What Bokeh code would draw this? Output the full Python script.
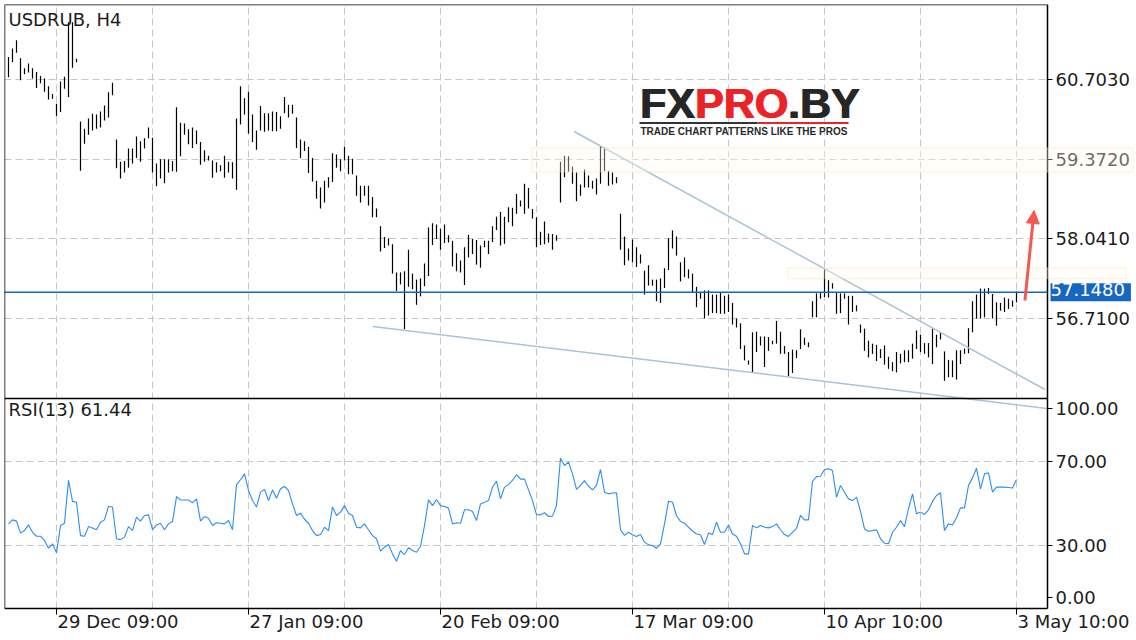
from bokeh.plotting import figure
from bokeh.models import (Range1d, FixedTicker, BoxAnnotation, Label, LinearAxis,
                          Arrow, NormalHead, ColumnDataSource)
from bokeh.embed import file_html
from bokeh.resources import INLINE

# ---------------- data ----------------
symbol_title = "USDRUB, H4"
rsi_title = "RSI(13) 61.44"
price_ticks = [60.7030, 59.3720, 58.0410, 56.7100]
price_tick_labels = ["60.7030", "59.3720", "58.0410", "56.7100"]
last_price = 57.1480
last_price_label = "57.1480"
rsi_ticks = [100, 70, 30, 0]
rsi_tick_labels = ["100.00", "70.00", "30.00", "0.00"]
rsi_grid_levels = [70, 30]
date_labels = ["29 Dec 09:00", "27 Jan 09:00", "20 Feb 09:00",
               "17 Mar 09:00", "10 Apr 10:00", "3 May 10:00"]
date_label_bars = [12, 60, 108, 156, 204, 252]
grid_bars = [12, 36, 60, 84, 108, 132, 156, 180, 204, 228, 252]

high = [61.08, 61.22, 61.36, 61.06, 60.89, 60.97, 60.89, 60.83, 60.76, 60.72,
        60.59, 60.46, 60.30, 60.67, 60.75, 61.66, 61.66, 61.05, 60.00, 59.88,
        60.05, 60.13, 60.12, 60.17, 60.27, 60.49, 60.65, 59.70, 59.33, 59.34,
        59.55, 59.55, 59.75, 59.67, 59.72, 59.90, 59.73, 59.30, 59.37, 59.37,
        59.37, 59.34, 60.24, 59.98, 59.97, 59.87, 59.90, 59.85, 59.66, 59.52,
        59.43, 59.35, 59.32, 59.27, 59.43, 59.33, 59.32, 60.05, 60.59, 60.39,
        60.50, 60.12, 59.85, 60.26, 60.14, 60.14, 60.17, 60.16, 60.09, 60.41,
        60.28, 60.28, 60.07, 59.70, 59.67, 59.58, 59.39, 59.01, 58.90, 59.01,
        59.07, 59.47, 59.45, 59.37, 59.58, 59.43, 59.38, 59.10, 58.93, 58.93,
        58.93, 58.74, 58.55, 58.25, 58.07, 58.05, 57.95, 57.48, 57.48, 57.50,
        57.86, 57.46, 57.36, 57.38, 57.63, 58.23, 58.30, 58.28, 58.21, 58.28,
        58.10, 58.01, 57.80, 57.68, 57.90, 58.11, 58.04, 58.02, 57.93, 58.01,
        58.01, 58.25, 58.41, 58.49, 58.41, 58.57, 58.56, 58.79, 58.68, 58.96,
        58.89, 58.54, 58.40, 58.16, 58.33, 58.13, 58.12, 58.10, 59.33, 59.43,
        59.42, 59.25, 59.15, 58.95, 59.20, 59.10, 59.01, 59.05, 59.58, 59.55,
        59.18, 59.15, 59.07, 58.46, 58.08, 57.88, 58.03, 57.90, 57.78, 57.51,
        57.60, 57.36, 57.36, 57.38, 57.55, 58.05, 58.18, 58.08, 57.65, 57.73,
        57.53, 57.46, 57.24, 57.15, 57.18, 57.18, 57.11, 57.11, 57.14, 57.09,
        57.11, 56.97, 56.71, 56.63, 56.26, 56.01, 56.48, 56.49, 56.41, 56.41,
        56.40, 56.34, 56.67, 56.49, 56.25, 56.15, 56.19, 56.18, 56.53, 56.39,
        56.31, 57.00, 57.13, 57.15, 57.55, 57.35, 57.30, 57.15, 57.13, 57.13,
        57.09, 57.09, 56.93, 56.61, 56.54, 56.34, 56.29, 56.27, 56.20, 56.26,
        56.07, 55.98, 56.15, 56.12, 56.18, 56.18, 56.29, 56.51, 56.44, 56.30,
        56.30, 56.54, 56.44, 56.48, 56.16, 56.02, 56.01, 56.18, 56.18, 56.21,
        56.55, 57.00, 57.11, 57.21, 57.21, 57.22, 57.12, 56.98, 56.97, 57.06,
        57.04, 57.01, 57.16]

low = [60.74, 60.99, 61.15, 60.69, 60.79, 60.82, 60.72, 60.56, 60.64, 60.50,
       60.37, 60.38, 60.09, 60.16, 60.55, 60.41, 60.90, 60.99, 59.18, 59.63,
       59.78, 59.85, 59.88, 59.90, 60.02, 60.07, 60.44, 59.22, 59.05, 59.15,
       59.23, 59.30, 59.39, 59.33, 59.55, 59.72, 59.15, 58.92, 59.05, 58.97,
       59.15, 59.17, 59.16, 59.42, 59.78, 59.62, 59.56, 59.62, 59.28, 59.33,
       59.35, 59.06, 59.15, 59.17, 59.06, 59.15, 59.05, 58.86, 59.95, 60.12,
       59.80, 59.66, 59.53, 59.85, 59.83, 59.85, 59.84, 59.84, 59.88, 60.14,
       60.07, 60.13, 59.56, 59.39, 59.51, 59.14, 59.00, 58.71, 58.55, 58.65,
       58.90, 58.99, 59.23, 59.17, 59.35, 59.12, 59.12, 58.76, 58.65, 58.76,
       58.60, 58.40, 58.40, 57.83, 57.89, 57.93, 57.46, 57.17, 57.28, 56.53,
       57.24, 57.20, 56.94, 57.08, 57.25, 57.42, 57.94, 58.04, 57.86, 57.97,
       57.98, 57.58, 57.50, 57.48, 57.27, 57.73, 57.79, 57.61, 57.56, 57.90,
       57.79, 57.99, 58.19, 57.93, 57.96, 58.32, 58.25, 58.46, 58.58, 58.46,
       58.55, 58.38, 57.90, 57.94, 57.95, 57.98, 57.86, 58.01, 58.65, 59.07,
       59.16, 58.96, 58.67, 58.76, 58.90, 58.90, 58.88, 58.78, 58.96, 59.17,
       58.93, 58.95, 58.97, 57.86, 57.60, 57.68, 57.65, 57.57, 57.63, 57.11,
       57.26, 57.26, 57.00, 56.97, 57.22, 57.52, 57.88, 57.76, 57.33, 57.40,
       57.38, 57.15, 56.90, 57.04, 56.71, 56.76, 56.80, 56.80, 56.79, 56.79,
       56.82, 56.61, 56.56, 56.20, 56.01, 55.94, 55.81, 56.15, 56.26, 55.90,
       56.17, 56.28, 56.29, 56.12, 56.12, 55.75, 55.80, 56.05, 56.20, 56.27,
       56.23, 56.73, 56.73, 57.04, 57.07, 57.06, 57.21, 56.79, 56.80, 57.04,
       56.61, 56.82, 56.83, 56.47, 56.17, 56.06, 56.12, 56.00, 56.05, 55.94,
       55.87, 55.83, 55.81, 55.96, 55.98, 55.98, 56.04, 56.20, 56.15, 56.12,
       56.06, 55.95, 56.23, 56.36, 55.67, 55.73, 55.73, 55.69, 55.95, 56.12,
       56.13, 56.48, 56.71, 56.71, 56.73, 57.12, 56.71, 56.59, 56.84, 56.82,
       56.87, 56.91, 56.98]

rsi = [40.3, 42.2, 41.6, 35.9, 37.1, 39.8, 36.3, 34.4, 34.4, 32.4,
       28.7, 30.8, 26.5, 39.5, 40.6, 61.0, 51.0, 50.6, 34.7, 34.4,
       39.0, 38.3, 37.5, 41.1, 42.2, 48.6, 48.3, 33.2, 32.8, 34.0,
       39.0, 37.1, 43.5, 41.6, 44.3, 44.6, 37.6, 39.8, 40.6, 37.5,
       40.3, 41.4, 53.3, 51.7, 51.7, 51.7, 50.3, 52.2, 41.6, 43.8,
       43.0, 39.5, 40.8, 40.6, 40.3, 41.9, 37.5, 59.0, 61.3, 64.1,
       56.2, 51.4, 48.3, 55.4, 56.7, 51.4, 56.5, 52.5, 57.0, 58.1,
       56.2, 49.8, 44.3, 45.4, 42.5, 40.6, 37.1, 34.7, 35.2, 38.7,
       37.1, 48.3, 44.3, 45.9, 49.0, 45.4, 44.3, 38.7, 38.4, 40.3,
       37.5, 34.7, 33.2, 27.3, 29.2, 30.5, 26.0, 22.5, 27.6, 25.7,
       28.9, 27.6, 26.8, 29.5, 39.5, 51.7, 49.0, 51.9, 49.0, 48.6,
       47.8, 40.3, 40.8, 40.6, 47.0, 47.0, 46.2, 41.9, 49.8, 50.6,
       51.4, 57.8, 60.6, 52.2, 57.8, 59.0, 61.0, 63.7, 61.6, 61.6,
       56.5, 51.4, 44.7, 44.6, 45.6, 43.8, 44.0, 49.0, 71.6, 68.1,
       69.7, 64.1, 56.7, 58.6, 60.9, 58.2, 56.5, 58.6, 66.2, 55.4,
       54.6, 55.0, 55.1, 37.5, 34.8, 36.3, 35.1, 34.3, 35.2, 31.6,
       30.3, 30.0, 28.7, 30.8, 40.3, 51.1, 50.6, 44.3, 41.4, 40.6,
       38.7, 36.9, 35.5, 35.1, 30.5, 35.9, 35.2, 41.1, 36.3, 36.3,
       39.8, 35.5, 34.4, 30.8, 26.0, 26.0, 39.5, 38.4, 39.5, 38.7,
       38.4, 39.0, 40.3, 37.5, 35.2, 34.3, 36.3, 38.2, 44.3, 42.2,
       42.2, 60.6, 62.8, 63.0, 66.2, 66.5, 65.7, 53.0, 58.6, 55.4,
       52.2, 51.4, 53.0, 46.3, 37.9, 36.8, 37.1, 37.5, 33.2, 31.1,
       30.8, 36.3, 38.7, 41.9, 39.0, 47.5, 54.6, 45.1, 45.9, 44.8,
       47.0, 51.0, 53.8, 55.1, 37.1, 40.3, 39.8, 43.2, 47.9, 47.9,
       58.6, 62.2, 66.8, 57.0, 64.1, 64.6, 55.4, 57.8, 57.8, 57.8,
       57.6, 57.4, 61.44]

bars = list(range(len(high)))

# analyst drawings (bar index, price)
upper_trend_x = [141.4, 259.1]
upper_trend_y = [59.834, 55.524]
lower_trend_x = [91.1, 259.6]
lower_trend_y = [56.576, 55.207]
zone_left = [130.9, 194.9]
zone_right = [281.1, 279.4]
zone_top = [59.559, 57.554]
zone_bottom = [59.158, 57.378]
arrow_start = (254.1, 57.011)
arrow_end = (256.4, 58.515)

# ---------------- layout ----------------
FONT = "DejaVu Sans"
TEXT = "#1c1c1c"
W, H = 1136, 640
LEFT, TOP = 4, 4
PANE_W = 1043                 # width of the chart panes (price axis sits at their right edge)
PRICE_H, RSI_H = 394, 210
BAR_PX = 4.0
FIRST_BAR_PX = 4.0
BASELINE_FIX = 0.38           # label baseline correction (em)

price_top, price_bottom = 61.956, 55.374
ppp = (price_top - price_bottom) / PRICE_H          # price per pixel
pane_bottom = price_bottom - RSI_H * ppp
x_start = -FIRST_BAR_PX / BAR_PX
x_axis_loc = x_start + PANE_W / BAR_PX
x_end = x_start + (W - LEFT) / BAR_PX
y_bottom = price_top - (H - TOP) * ppp
rsi_px = RSI_H / 100.0


def x_at(px):
    return x_start + (px - LEFT) / BAR_PX


def y_at(px):
    return price_top - (px - TOP) * ppp


def rsi_to_price(v):
    return pane_bottom + v * rsi_px * ppp


p = figure(width=W, height=H, output_backend="svg", toolbar_location=None,
           x_range=Range1d(x_start, x_end), y_range=Range1d(y_bottom, price_top),
           x_axis_location=None, y_axis_location=None,
           min_border=0, min_border_left=LEFT, min_border_top=TOP,
           min_border_right=0, min_border_bottom=0)
p.extra_y_ranges = {"rsi": Range1d(-(H - TOP - PRICE_H - RSI_H) / rsi_px,
                                   (PRICE_H + RSI_H) / rsi_px)}
p.background_fill_color = "white"
p.border_fill_color = "white"
p.outline_line_color = None

# ---- grids (limited to the panes) ----
p.xgrid.ticker = FixedTicker(ticks=grid_bars, minor_ticks=[])
p.ygrid.ticker = FixedTicker(ticks=price_ticks + [rsi_to_price(v) for v in rsi_grid_levels],
                             minor_ticks=[])
for g in (p.xgrid[0], p.ygrid[0]):
    g.grid_line_color = "#c6c6c6"
    g.grid_line_dash = "7 4"
    g.grid_line_width = 1
try:
    p.xgrid[0].cross_bounds = (pane_bottom, price_top)
    p.ygrid[0].cross_bounds = (x_start, x_axis_loc)
except Exception:
    pass

# ---- zones ----
for l, r, t, b in zip(zone_left, zone_right, zone_top, zone_bottom):
    p.add_layout(BoxAnnotation(left=l, right=r, top=t, bottom=b,
                               fill_color="#fffdf4", fill_alpha=0.35,
                               line_color="#f4d68e", line_width=1.3))

# ---- price bars ----
src = ColumnDataSource(dict(x=bars, high=high, low=low, rsi=rsi))
p.segment(x0="x", y0="low", x1="x", y1="high", source=src,
          line_color="black", line_width=1.2)

# ---- RSI line ----
p.line(x="x", y="rsi", source=src, y_range_name="rsi",
       line_color="#2a8ef2", line_width=1.1)

# ---- trend lines ----
p.line(upper_trend_x, upper_trend_y, line_color="#a9c4d4", line_width=1.5)
p.line(lower_trend_x, lower_trend_y, line_color="#a9c4d4", line_width=1.5)

# ---- last price line + tag ----
p.line([x_start, x_axis_loc], [last_price, last_price], line_color="#1767c1", line_width=1.5)
p.add_layout(Label(x=x_axis_loc, y=last_price, x_offset=3, text=last_price_label,
                   text_font=FONT, text_font_size="18px", text_color="white",
                   text_baseline="middle", text_align="left",
                   background_fill_color="#1767c1", padding=(0, 6, 0, 5)))

# ---- axes (fixed to the pane edges) ----
rsi_pos = []
for v in rsi_ticks:
    pos = rsi_to_price(v)
    if v == 100:
        pos -= 10 * ppp
    elif v == 0:
        pos += 11 * ppp
    rsi_pos.append(pos)
overrides = {}
for t, s in zip(price_ticks, price_tick_labels):
    overrides[t] = s
for t, s in zip(rsi_pos, rsi_tick_labels):
    overrides[t] = s
ya = LinearAxis(fixed_location=x_axis_loc, bounds=(pane_bottom, price_top),
                ticker=FixedTicker(ticks=price_ticks + rsi_pos, minor_ticks=[]),
                major_label_overrides=overrides,
                major_tick_out=5, major_tick_in=0, minor_tick_line_color=None,
                axis_line_color="black", axis_line_width=1.5,
                major_tick_line_color="black", major_label_standoff=3,
                major_label_text_font=FONT, major_label_text_font_size="18px",
                major_label_text_color=TEXT)
p.add_layout(ya, "right")

xa = LinearAxis(fixed_location=pane_bottom, bounds=(x_start, x_axis_loc),
                ticker=FixedTicker(ticks=date_label_bars, minor_ticks=[]),
                major_label_overrides={b: "" for b in date_label_bars},
                major_label_text_font_size="1px",
                major_tick_out=6, major_tick_in=0, minor_tick_line_color=None,
                axis_line_color="black", axis_line_width=1.5)
p.add_layout(xa, "below")


def border_axis(loc, bounds, side):
    ax = LinearAxis(fixed_location=loc, bounds=bounds,
                    ticker=FixedTicker(ticks=[], minor_ticks=[]),
                    major_tick_line_color=None, minor_tick_line_color=None,
                    major_label_text_font_size="1px",
                    axis_line_color="black", axis_line_width=1.5)
    p.add_layout(ax, side)


border_axis(price_top, (x_start, x_axis_loc), "above")       # top edge
border_axis(price_bottom, (x_start, x_axis_loc), "below")    # pane separator
border_axis(x_start, (pane_bottom, price_top), "left")       # left edge

# ---- arrow ----
p.add_layout(Arrow(end=NormalHead(size=13, fill_color="#f25a50", line_color="#f25a50"),
                   x_start=arrow_start[0], y_start=arrow_start[1],
                   x_end=arrow_end[0], y_end=arrow_end[1],
                   line_color="#f25a50", line_width=3))


def text_label(xpx, base_px, txt, size, color=TEXT, font=FONT, style="normal", xoff=0):
    p.add_layout(Label(x=x_at(xpx), y=y_at(base_px - BASELINE_FIX * size), x_offset=xoff,
                       text=txt, text_font=font, text_font_style=style,
                       text_font_size=f"{size}px", text_color=color,
                       text_baseline="alphabetic", text_align="left"))


# ---- titles ----
text_label(8, 26, symbol_title, 18)
text_label(8, 416, rsi_title, 18)

# ---- date labels, left-aligned at their ticks ----
for b, s in zip(date_label_bars, date_labels):
    p.add_layout(Label(x=b, y=y_at(628 - BASELINE_FIX * 18), x_offset=1, text=s,
                       text_font=FONT, text_font_size="18px", text_color=TEXT,
                       text_baseline="alphabetic", text_align="left"))

# ---- watermark logo ----
LOGO_X, LOGO_BASE = 639, 119
for txt, off, col in (("FX", 0, "#262626"), ("PRO", 55, "#ec2227"), (".BY", 148, "#262626")):
    for dx in (0, 1.2):
        text_label(LOGO_X, LOGO_BASE, txt, 43, color=col, font="Liberation Sans",
                   style="bold", xoff=off + dx)
p.add_layout(BoxAnnotation(left=x_at(LOGO_X), right=x_at(LOGO_X + 118),
                           top=y_at(LOGO_BASE + 2.5), bottom=y_at(LOGO_BASE + 4.5),
                           fill_color="#333333", fill_alpha=1, line_color=None))
p.add_layout(BoxAnnotation(left=x_at(LOGO_X + 118), right=x_at(LOGO_X + 209),
                           top=y_at(LOGO_BASE + 2.5), bottom=y_at(LOGO_BASE + 4.5),
                           fill_color="#ec2227", fill_alpha=1, line_color=None))
text_label(LOGO_X + 1, LOGO_BASE + 15.5, "TRADE CHART PATTERNS LIKE THE PROS", 10,
           color="#2a2a2a", font="Liberation Sans", style="bold")

open("out.html", "w").write(file_html(p, INLINE))
